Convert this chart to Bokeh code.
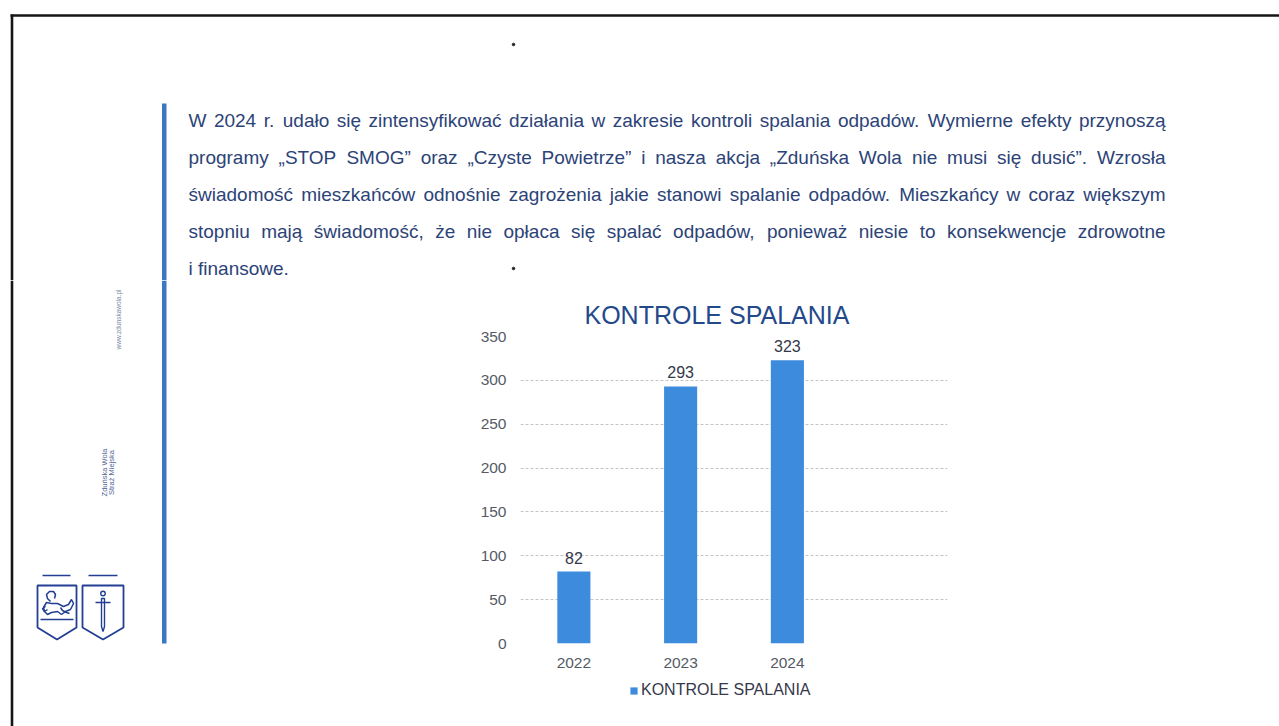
import math
from bokeh.plotting import figure
from bokeh.models import Range1d, FactorRange, FixedTicker, Legend, LegendItem, ColumnDataSource
from bokeh.layouts import column, row
from bokeh.core.properties import value
from bokeh.embed import file_html
from bokeh.resources import INLINE

# ---------------- data ----------------
categories = ["2022", "2023", "2024"]
kontrole = [82, 293, 323]
y_ticks = [0, 50, 100, 150, 200, 250, 300, 350]
chart_title = "KONTROLE SPALANIA"
series_name = "KONTROLE SPALANIA"

paragraph_lines = [
    "W 2024 r. udało się zintensyfikować działania w zakresie kontroli spalania odpadów. Wymierne efekty przynoszą",
    "programy „STOP SMOG” oraz „Czyste Powietrze” i nasza akcja „Zduńska Wola nie musi się dusić”. Wzrosła",
    "świadomość mieszkańców odnośnie zagrożenia jakie stanowi spalanie odpadów. Mieszkańcy w coraz większym",
    "stopniu mają świadomość, że nie opłaca się spalać odpadów, ponieważ niesie to konsekwencje zdrowotne",
    "i finansowe.",
]
sidebar_name = ["Zduńska Wola", "Straż Miejska"]
sidebar_url = "www.zdunskawola.pl"

# ---------------- style ----------------
FONT = "Liberation Sans"
BAR = "#3d8bdc"
NAVY = "#23498a"
TEXT = "#2c4377"
TICK = "#555b66"
DARK = "#34384a"
RULE = "#3b78c2"
LOGO = "#233f94"
BORDER = "#151515"

PX0, PX1, PY0, PY1 = 0, 1279, 0, 726
SPLIT_Y = 280
LEFT_X1 = 450
CHART_X1 = 1000
LEG_Y = 678          # chart / legend strip boundary


def page_fig(x0, x1, y0, y1):
    p = figure(width=x1 - x0, height=y1 - y0,
               x_range=Range1d(x0, x1), y_range=Range1d(y1, y0),
               output_backend="svg", toolbar_location=None, min_border=0,
               x_axis_location=None, y_axis_location=None)
    p.grid.visible = False
    p.outline_line_color = None
    p.background_fill_color = "white"
    p.border_fill_color = "white"
    p.frame_align = False
    return p


# Arial / Liberation Sans advance widths (1/1000 em)
AW = {" ": 278, ",": 278, ".": 278, "„": 333, "”": 333, '"': 355}
for ch in "0123456789":
    AW[ch] = 556
AW.update(dict(zip("ABCDEFGHIJKLMNOPQRSTUVWXYZ",
                   [667, 667, 722, 722, 667, 611, 778, 722, 278, 500, 667, 556, 833,
                    722, 778, 667, 778, 722, 667, 611, 722, 667, 944, 667, 667, 611])))
AW.update(dict(zip("abcdefghijklmnopqrstuvwxyz",
                   [556, 556, 500, 556, 556, 278, 556, 556, 222, 222, 500, 222, 833,
                    556, 556, 556, 556, 333, 500, 278, 556, 500, 722, 500, 500, 500])))
AW.update({"ą": 556, "ć": 500, "ę": 556, "ł": 222, "ń": 556, "ó": 556, "ś": 500,
           "ź": 500, "ż": 500, "Ż": 611, "Ś": 667, "Ł": 556})


def tw(s, size):
    return sum(AW.get(c, 556) for c in s) / 1000.0 * size


# ---------------- top page part ----------------
top = page_fig(PX0, PX1, PY0, SPLIT_Y)
top.line(x=[10, PX1], y=[15, 15], line_color=BORDER, line_width=2.4)
top.line(x=[11.5, 11.5], y=[14, SPLIT_Y], line_color=BORDER, line_width=2.6)
top.quad(left=[161.5], right=[166], top=[103], bottom=[SPLIT_Y], fill_color=RULE, line_color=None)
top.scatter(x=[513, 513], y=[44, 268], size=2.5, color="#222222")

FS = 19
TL, TR = 188, 1165
wx, wy, wt = [], [], []
for i, line in enumerate(paragraph_lines):
    words = line.split(" ")
    widths = [tw(w, FS) for w in words]
    if i < len(paragraph_lines) - 1 and len(words) > 1:
        gap = (TR - TL - sum(widths)) / (len(words) - 1)
    else:
        gap = tw(" ", FS)
    x = TL
    yb = 120 + 37 * i
    for w, wd in zip(words, widths):
        wx.append(x)
        wy.append(yb)
        wt.append(w)
        x += wd + gap
top.text(x=wx, y=wy, text=wt, text_align="left", text_baseline="alphabetic",
         text_font=value(FONT), text_font_size=f"{FS}px", text_color=TEXT)

# ---------------- left page part ----------------
left = page_fig(PX0, LEFT_X1, SPLIT_Y, PY1)
left.line(x=[11.5, 11.5], y=[SPLIT_Y, PY1], line_color=BORDER, line_width=2.6)
left.quad(left=[161.5], right=[166], top=[SPLIT_Y], bottom=[643], fill_color=RULE, line_color=None)

left.text(x=[118], y=[319], text=[sidebar_url], angle=math.pi / 2,
          text_align="center", text_baseline="middle",
          text_font=value(FONT), text_font_size="6.5px", text_color="#7f8aa6")
left.text(x=[103.5, 111], y=[472, 472], text=sidebar_name, angle=math.pi / 2,
          text_align="center", text_baseline="middle",
          text_font=value(FONT), text_font_size="7.5px", text_color="#55689a")

# logos (two shields)
left.patches(xs=[[37, 76, 76, 56.5, 37, 37], [82, 123, 123, 102.5, 82, 82]],
             ys=[[585, 585, 627, 639, 627, 585], [585, 585, 627, 639, 627, 585]],
             fill_color=None, line_color=LOGO, line_width=1.8)
left.multi_line(xs=[[42, 70], [88, 117], [40, 73], [95, 110]],
                ys=[[575, 575], [575, 575], [619, 619], [602, 602]],
                line_color=LOGO, line_width=1.6)
left.patches(xs=[[101, 104, 104, 102.5, 101, 101]], ys=[[598, 598, 626, 631, 626, 598]],
             fill_color=None, line_color=LOGO, line_width=1.4)
left.scatter(x=[102.5], y=[593], size=4.5, marker="circle", fill_color=None,
             line_color=LOGO, line_width=1.4)
# stylised lion
left.multi_line(
    xs=[[43, 46, 51, 57, 63, 68, 71, 73, 70, 65, 61, 57, 51, 47, 44, 43],
        [50, 47, 46, 49, 53, 55, 54],
        [60, 62, 66, 69],
        [47, 44, 42, 45]],
    ys=[[607, 602, 603, 603, 606, 604, 599, 603, 609, 611, 614, 611, 612, 614, 611, 607],
        [601, 598, 594, 591, 591, 594, 598],
        [607, 610, 612, 613],
        [609, 611, 608, 606]],
    line_color=LOGO, line_width=1.5)

# ---------------- chart ----------------
chart = figure(width=CHART_X1 - LEFT_X1, height=LEG_Y - SPLIT_Y,
               x_range=FactorRange(factors=categories + [" "]),
               y_range=Range1d(0, 350),
               output_backend="svg", toolbar_location=None,
               min_border_left=70, min_border_right=53,
               min_border_top=336 - SPLIT_Y, min_border_bottom=LEG_Y - 643,
               title=chart_title)
chart.frame_align = False
chart.outline_line_color = None
chart.background_fill_color = "white"
chart.border_fill_color = "white"

chart.title.text_font = FONT
chart.title.text_font_size = "25px"
chart.title.text_font_style = "normal"
chart.title.text_color = NAVY
chart.title.align = "left"
chart.title.offset = 64
chart.title.standoff = 16

src = ColumnDataSource(dict(cat=categories, val=kontrole, lab=[str(v) for v in kontrole]))
bars = chart.vbar(x="cat", top="val", width=0.31, source=src,
                  fill_color=BAR, line_color=None)
chart.text(x="cat", y="val", text="lab", source=src, text_align="center",
           text_baseline="middle", y_offset=-14,
           text_font=value(FONT), text_font_size="16px", text_color=DARK)

chart.yaxis.ticker = FixedTicker(ticks=y_ticks)
for ax in (chart.xaxis, chart.yaxis):
    ax.axis_line_color = None
    ax.major_tick_line_color = None
    ax.minor_tick_line_color = None
    ax.major_tick_out = 0
    ax.major_tick_in = 0
    ax.major_label_text_font = FONT
    ax.major_label_text_font_size = "15.5px"
    ax.major_label_text_color = TICK
chart.yaxis.major_label_standoff = 14
chart.xaxis.major_label_standoff = 10

chart.xgrid.visible = False
chart.ygrid.grid_line_color = "#c4c4c4"
chart.ygrid.grid_line_width = 1
chart.ygrid.grid_line_dash = "3 2"

# ---------------- legend strip under the chart ----------------
legfig = figure(width=CHART_X1 - LEFT_X1, height=PY1 - LEG_Y,
                x_range=Range1d(0, 1), y_range=Range1d(0, 1),
                output_backend="svg", toolbar_location=None, min_border=0,
                x_axis_location=None, y_axis_location=None)
legfig.grid.visible = False
legfig.outline_line_color = None
legfig.frame_align = False
# legend swatch proxy: a single glyph kept outside the strip's visible range
proxy = legfig.vbar(x=[5], top=[1], width=0.31, fill_color=BAR, line_color=None)
legend = Legend(items=[LegendItem(label=series_name, renderers=[proxy])],
                location=(629 - LEFT_X1, PY1 - 699), orientation="horizontal",
                glyph_width=9, glyph_height=9, label_standoff=3,
                label_height=18, padding=0, margin=0, spacing=0,
                label_text_font=FONT, label_text_font_size="16px",
                label_text_color=DARK, border_line_color=None,
                background_fill_alpha=0)
legfig.add_layout(legend)

# ---------------- right page part ----------------
right = page_fig(CHART_X1, PX1, SPLIT_Y, PY1)

page = column(top, row(left, column(chart, legfig), right))
open("out.html", "w").write(file_html(page, INLINE))
